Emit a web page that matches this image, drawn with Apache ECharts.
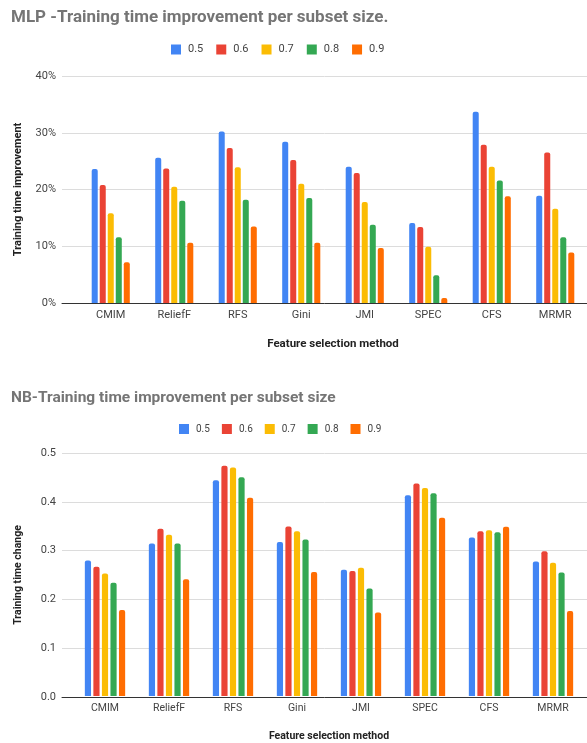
<!DOCTYPE html>
<html>
<head>
<meta charset="utf-8">
<script src="https://cdn.jsdelivr.net/npm/echarts@6/dist/echarts.min.js"></script>
<style>
  html, body { margin: 0; padding: 0; background: #fff; }
  #chart { width: 587px; height: 743px; }
</style>
</head>
<body>
<div id="chart"></div>
<script>
// Feature selection methods shared by both panels
const methods = ['CMIM', 'ReliefF', 'RFS', 'Gini', 'JMI', 'SPEC', 'CFS', 'MRMR'];
const subsetSizes = ['0.5', '0.6', '0.7', '0.8', '0.9'];
const colors = ['#4285F4', '#EA4335', '#FBBC04', '#34A853', '#FF6D01'];

// MLP training time improvement (%) per subset size
const mlp05 = [23.6, 25.6, 30.2, 28.4, 24.0, 14.1, 33.7, 18.9];
const mlp06 = [20.8, 23.7, 27.3, 25.2, 22.9, 13.4, 27.9, 26.5];
const mlp07 = [15.8, 20.5, 23.9, 21.0, 17.8, 9.9, 24.0, 16.6];
const mlp08 = [11.6, 18.0, 18.2, 18.5, 13.8, 4.9, 21.6, 11.6];
const mlp09 = [7.2, 10.6, 13.5, 10.6, 9.7, 0.9, 18.8, 8.9];
const mlpTicks = ['0%', '10%', '20%', '30%', '40%'];

// NB training time change per subset size
const nb05 = [0.279, 0.314, 0.444, 0.317, 0.260, 0.413, 0.326, 0.277];
const nb06 = [0.266, 0.344, 0.474, 0.349, 0.257, 0.437, 0.339, 0.298];
const nb07 = [0.252, 0.332, 0.470, 0.339, 0.264, 0.428, 0.341, 0.274];
const nb08 = [0.233, 0.314, 0.450, 0.322, 0.221, 0.417, 0.337, 0.254];
const nb09 = [0.177, 0.240, 0.408, 0.255, 0.172, 0.367, 0.348, 0.175];
const nbTicks = ['0.0', '0.1', '0.2', '0.3', '0.4', '0.5'];

const mlpData = [mlp05, mlp06, mlp07, mlp08, mlp09];
const nbData = [nb05, nb06, nb07, nb08, nb09];

const FONT = 'Roboto, Arial, sans-serif';
const titleColor = '#757575';
const labelColor = '#444';
const gridColor = '#dcdcdc';
const baseColor = '#333';

function barSeries(dataSets, xIdx, yIdx, barGap, catGap) {
  return dataSets.map((vals, i) => ({
    name: subsetSizes[i],
    type: 'bar',
    xAxisIndex: xIdx,
    yAxisIndex: yIdx,
    data: vals,
    barGap: barGap,
    barCategoryGap: catGap,
    itemStyle: { color: colors[i], borderRadius: [2, 2, 0, 0] },
    emphasis: { disabled: true },
    animation: false
  }));
}

const chart = echarts.init(document.getElementById('chart'), null, { renderer: 'canvas' });

chart.setOption({
  backgroundColor: '#fff',
  animation: false,
  color: colors,
  title: [
    {
      text: 'MLP -Training time improvement per subset size.',
      left: 11, top: 9, padding: 0,
      textStyle: { fontFamily: FONT, fontSize: 17, fontWeight: 'bold', color: titleColor }
    },
    {
      text: 'NB-Training time improvement per subset size',
      left: 11, top: 390, padding: 0,
      textStyle: { fontFamily: FONT, fontSize: 15.5, fontWeight: 'bold', color: titleColor }
    }
  ],
  legend: [
    {
      data: subsetSizes, left: 171, top: 44, padding: 0,
      icon: 'rect', itemWidth: 10, itemHeight: 10, itemGap: 13,
      textStyle: { fontFamily: FONT, fontSize: 11, color: labelColor, padding: [0, 0, 0, 2] }
    },
    {
      data: subsetSizes, left: 179, top: 424, padding: 0,
      icon: 'rect', itemWidth: 10, itemHeight: 10, itemGap: 12,
      textStyle: { fontFamily: FONT, fontSize: 10, color: labelColor, padding: [0, 0, 0, 2] }
    }
  ],
  grid: [
    { left: 62, right: 0, top: 76, height: 227 },
    { left: 79, right: 0, top: 76, height: 227 },
    { left: 62, right: 0, top: 453, height: 244 },
    { left: 73, right: 2, top: 453, height: 244 }
  ],
  xAxis: [
    // baseline across the full plot width (MLP)
    {
      gridIndex: 0, type: 'value', min: 0, max: 1,
      axisLine: { show: true, lineStyle: { color: baseColor, width: 1 } },
      axisTick: { show: false }, axisLabel: { show: false }, splitLine: { show: false }
    },
    {
      gridIndex: 1, type: 'category', data: methods,
      axisLine: { show: false }, axisTick: { show: false },
      axisLabel: { fontFamily: FONT, fontSize: 11, color: labelColor, margin: 7 },
      name: 'Feature selection method', nameLocation: 'middle', nameGap: 35,
      nameTextStyle: { fontFamily: FONT, fontSize: 11.5, fontWeight: 'bold', color: '#222' }
    },
    // baseline across the full plot width (NB)
    {
      gridIndex: 2, type: 'value', min: 0, max: 1,
      axisLine: { show: true, lineStyle: { color: baseColor, width: 1 } },
      axisTick: { show: false }, axisLabel: { show: false }, splitLine: { show: false }
    },
    {
      gridIndex: 3, type: 'category', data: methods,
      axisLine: { show: false }, axisTick: { show: false },
      axisLabel: { fontFamily: FONT, fontSize: 10.5, color: labelColor, margin: 7 },
      name: 'Feature selection method', nameLocation: 'middle', nameGap: 35,
      nameTextStyle: { fontFamily: FONT, fontSize: 10.5, fontWeight: 'bold', color: '#222' }
    }
  ],
  yAxis: [
    {
      gridIndex: 0, type: 'value', min: 0, max: 40, interval: 10,
      axisLine: { show: false }, axisTick: { show: false },
      axisLabel: {
        fontFamily: FONT, fontSize: 11, color: labelColor, margin: 6,
        formatter: v => mlpTicks[Math.round(v / 10)]
      },
      splitLine: { lineStyle: { color: gridColor, width: 1 } },
      name: 'Training time improvement', nameLocation: 'middle', nameGap: 38,
      nameTextStyle: { fontFamily: FONT, fontSize: 11, fontWeight: 'bold', color: '#222' }
    },
    { gridIndex: 1, type: 'value', min: 0, max: 40, interval: 10, show: false, splitLine: { show: false } },
    {
      gridIndex: 2, type: 'value', min: 0, max: 0.5, interval: 0.1,
      axisLine: { show: false }, axisTick: { show: false },
      axisLabel: {
        fontFamily: FONT, fontSize: 11, color: labelColor, margin: 6,
        formatter: v => nbTicks[Math.round(v * 10)]
      },
      splitLine: { lineStyle: { color: gridColor, width: 1 } },
      name: 'Training time change', nameLocation: 'middle', nameGap: 38,
      nameTextStyle: { fontFamily: FONT, fontSize: 10.5, fontWeight: 'bold', color: '#222' }
    },
    { gridIndex: 3, type: 'value', min: 0, max: 0.5, interval: 0.1, show: false, splitLine: { show: false } }
  ],
  series: [
    ...barSeries(mlpData, 1, 1, '33%', '40%'),
    ...barSeries(nbData, 3, 3, '38%', '37%')
  ]
});
</script>
</body>
</html>
